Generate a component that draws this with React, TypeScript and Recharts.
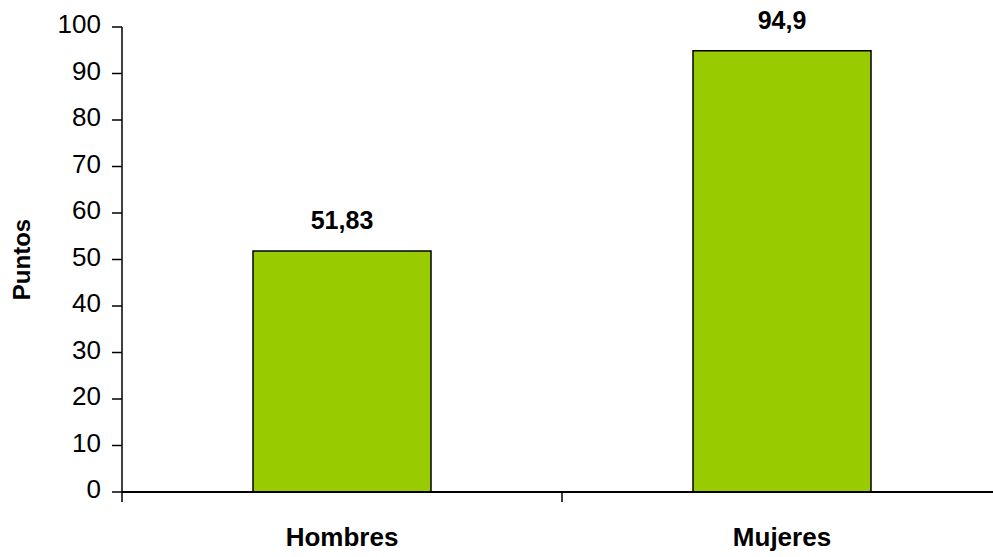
import React from 'react';
import { BarChart, Bar, XAxis, YAxis, LabelList } from 'recharts';

const categories = ['Hombres', 'Mujeres'];
const puntos = [51.83, 94.9];
const yTicks = [0, 10, 20, 30, 40, 50, 60, 70, 80, 90, 100];

const data = categories.map((c, i) => ({ name: c, value: puntos[i] }));

const FONT = '"Liberation Sans", Arial, sans-serif';
const LABEL_GAP = 36;
const TICK_LEN = 10;

const CatTick = (props: any) => {
  const { x, y, payload, index, visibleTicksCount, width } = props;
  const count = visibleTicksCount || categories.length;
  const bw = (width || 880) / count;
  const axisY = y - LABEL_GAP;
  return (
    <g>
      <line x1={x - bw / 2} x2={x - bw / 2} y1={axisY} y2={axisY + TICK_LEN} stroke="#000" strokeWidth={1.5} />
      {index === count - 1 && (
        <line x1={x + bw / 2} x2={x + bw / 2} y1={axisY} y2={axisY + TICK_LEN} stroke="#000" strokeWidth={1.5} />
      )}
      <text
        x={x}
        y={y}
        dy="0.71em"
        textAnchor="middle"
        fill="#000"
        style={{ fontSize: 26, fontWeight: 'bold', fontFamily: FONT }}
      >
        {payload.value}
      </text>
    </g>
  );
};

export default function App() {
  return (
    <div style={{ position: 'absolute', left: 0, top: 0, width: 993, height: 557, overflow: 'hidden', background: '#fff' }}>
      <BarChart width={1010} height={557} data={data} margin={{ top: 27, right: 8, left: 0, bottom: 0 }}>
        <XAxis
          dataKey="name"
          height={65}
          axisLine={{ stroke: '#000', strokeWidth: 2 }}
          tickLine={false}
          tickSize={0}
          tickMargin={LABEL_GAP}
          interval={0}
          tick={CatTick}
        />
        <YAxis
          width={122}
          domain={[0, 100]}
          ticks={yTicks}
          interval={0}
          tickSize={10}
          tickMargin={11}
          axisLine={{ stroke: '#000', strokeWidth: 1.5 }}
          tickLine={{ stroke: '#000', strokeWidth: 1.5 }}
          tick={{ fill: '#000', fontSize: 26, fontFamily: FONT, dy: -3 }}
          label={{
            value: 'Puntos',
            angle: -90,
            position: 'insideLeft',
            offset: 21,
            style: { textAnchor: 'middle', fontWeight: 'bold', fontSize: 24, fontFamily: FONT, fill: '#000' },
          }}
        />
        <Bar
          dataKey="value"
          fill="#99CC00"
          stroke="#000"
          strokeWidth={1.5}
          barSize={178}
          isAnimationActive={false}
        >
          <LabelList
            dataKey="value"
            position="top"
            offset={22}
            formatter={(v: any) => String(v).replace('.', ',')}
            style={{ fontWeight: 'bold', fontSize: 25, fontFamily: FONT, fill: '#000' }}
          />
        </Bar>
      </BarChart>
    </div>
  );
}
